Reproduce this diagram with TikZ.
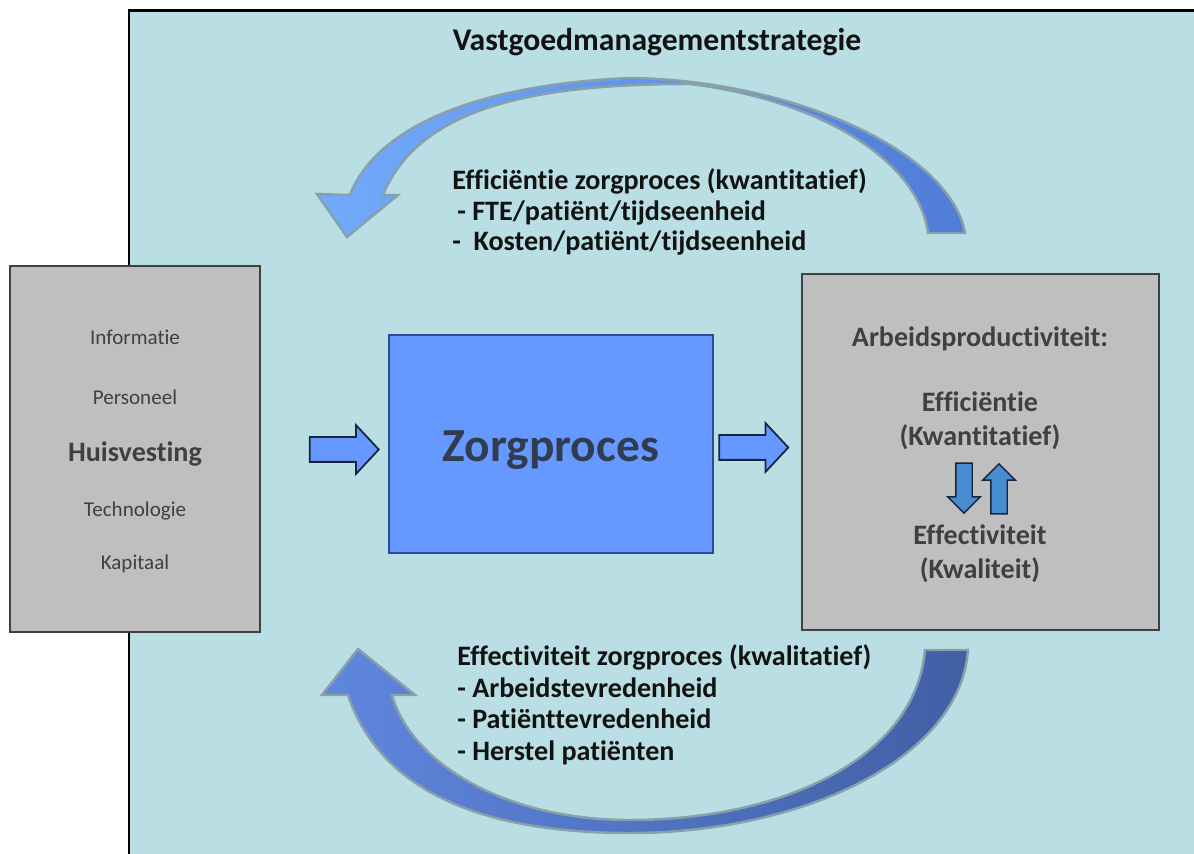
\documentclass[tikz,border=0pt]{standalone}
\usepackage{fontspec}
\setmainfont{Carlito}[Ligatures=NoCommon]
\usetikzlibrary{shapes.arrows}
\definecolor{bgcyan}{RGB}{185,223,228}
\definecolor{boxgray}{RGB}{191,191,191}
\definecolor{boxedge}{RGB}{64,64,64}
\definecolor{zblue}{RGB}{102,153,255}
\definecolor{zedge}{RGB}{45,75,150}
\definecolor{arrowedge}{RGB}{25,35,60}
\definecolor{txtdark}{RGB}{64,64,64}
\definecolor{txtblack}{RGB}{18,18,18}
\definecolor{zorgtxt}{RGB}{50,60,80}
\definecolor{steel}{RGB}{72,140,210}
\definecolor{topL}{RGB}{115,170,250}
\definecolor{topR}{RGB}{80,125,215}
\definecolor{botL}{RGB}{95,135,222}
\definecolor{botR}{RGB}{65,95,165}
\definecolor{curveedge}{RGB}{135,160,170}
\tikzset{
 graybox/.style={draw=boxedge, fill=boxgray, line width=0.8pt, inner sep=0},
 procbox/.style={draw=zedge, fill=zblue, line width=0.8pt, inner sep=0},
 blockarrow/.style={single arrow, draw=arrowedge, fill=zblue, line width=1pt, inner xsep=0, inner ysep=0.23cm,
   single arrow head extend=0.24cm, minimum height=1.38cm, single arrow tip angle=94},
 smallarrow/.style={single arrow, draw=arrowedge, fill=steel, line width=0.8pt, inner xsep=0, inner ysep=0.15cm,
   minimum height=1cm, single arrow head extend=0.16cm, single arrow tip angle=90},
 lbl/.style={font=\fontsize{16}{19}\selectfont\bfseries, text=txtblack, inner sep=0, anchor=mid west, yshift=-0.08cm},
 leftitem/.style={font=\fontsize{12}{14}\selectfont, text=txtdark, inner sep=0, anchor=mid, yshift=-0.07cm},
 rightitem/.style={font=\fontsize{16}{19}\selectfont\bfseries, text=txtdark, inner sep=0, anchor=mid, yshift=-0.09cm},
 curvearrow/.style={line width=1.4pt, draw=curveedge},
}
\begin{document}
\begin{tikzpicture}[x=0.02cm,y=-0.02cm]
\useasboundingbox (0,0) rectangle (1194,854);
\fill[white] (0,0) rectangle (1194,854);
\fill[bgcyan] (129,11) rectangle (1194,854);
\draw[black, line width=1.7pt] (129,854) -- (129,11) -- (1194,11);

% title
\node[font=\fontsize{18}{21}\selectfont\bfseries, text=txtblack, inner sep=0, anchor=mid] (title) at (657,46) {Vastgoedmanagementstrategie};

% curved arrows
\shadedraw[curvearrow, left color=topL, right color=topR]
  (350,195) .. controls (375,130) and (470,85) .. (630,78)
  .. controls (790,80) and (950,150) .. (965,233)
  -- (928,233) .. controls (918,160) and (820,100) .. (690,84)
  .. controls (540,84) and (420,105) .. (383,195)
  -- (398,195) -- (347,237) -- (317,194) -- cycle;
\shadedraw[curvearrow, left color=botL, right color=botR]
  (348,695) .. controls (380,790) and (480,833) .. (630,833)
  .. controls (800,833) and (960,760) .. (968,650)
  -- (925,650) .. controls (915,760) and (780,820) .. (630,820)
  .. controls (500,820) and (410,760) .. (392,695)
  -- (415,695) -- (358,649) -- (322,695) -- cycle;

% boxes
\node[graybox, minimum width=5cm, minimum height=7.32cm] (left) at (135,449) {};
\node[procbox, minimum width=6.48cm, minimum height=4.36cm] (proc) at (551,444) {};
\node[font=\fontsize{27}{32}\selectfont\bfseries, text=zorgtxt, inner sep=0, anchor=mid] (zorg) at (551,457) {Zorgproces};
\node[graybox, minimum width=7.14cm, minimum height=7.12cm] (right) at (980.5,452) {};

% block arrows
\node[blockarrow] (arrA) at (338.5,449.5) {};
\node[blockarrow] (arrB) at (748,447.5) {};

% left items
\node[leftitem] (i1) at (135,337) {Informatie};
\node[leftitem] (i2) at (135,397) {Personeel};
\node[leftitem, font=\fontsize{16}{19}\selectfont\bfseries] (i3) at (135,454) {Huisvesting};
\node[leftitem] (i4) at (135,509) {Technologie};
\node[leftitem] (i5) at (135,562) {Kapitaal};

% right items
\node[rightitem] (r1) at (980,338) {Arbeidsproductiviteit:};
\node[rightitem] (r2) at (980,403) {Efficiëntie};
\node[rightitem] (r3) at (980,437) {(Kwantitatief)};
\node[rightitem] (r4) at (980,536) {Effectiviteit};
\node[rightitem] (r5) at (980,570) {(Kwaliteit)};
\node[smallarrow, rotate=270] (dn) at (964,484) {};
\node[smallarrow, rotate=90] (up) at (999,493) {};

% top labels
\node[lbl] (t1) at (452,181) {Efficiëntie zorgproces (kwantitatief)};
\node[lbl] (t2) at (457,212) {- FTE/patiënt/tijdseenheid};
\node[lbl] (t3) at (452,242) {-\ \ Kosten/patiënt/tijdseenheid};

% bottom labels
\node[lbl] (b1) at (457,657) {Effectiviteit zorgproces (kwalitatief)};
\node[lbl] (b2) at (457,689) {- Arbeidstevredenheid};
\node[lbl] (b3) at (457,720) {- Patiënttevredenheid};
\node[lbl] (b4) at (457,752) {- Herstel patiënten};
\end{tikzpicture}
\end{document}
